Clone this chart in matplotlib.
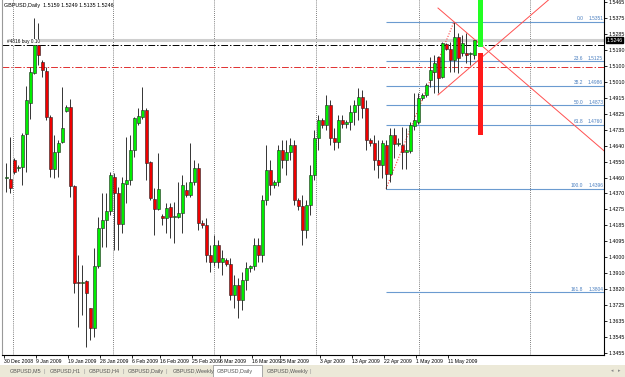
import numpy as np
import matplotlib.pyplot as plt
import matplotlib.transforms as mtransforms
from matplotlib.patches import Rectangle

plt.rcParams["font.family"] = ["Liberation Sans", "DejaVu Sans"]

# GBPUSD daily candles, 30 Dec 2008 .. 18 May 2009
opens = [1.4457, 1.4451, 1.4560, 1.4514, 1.4520, 1.4708, 1.4886, 1.5057, 1.5217, 1.5120,
         1.5069, 1.4806, 1.4508, 1.4605, 1.4663, 1.4840, 1.4863, 1.4411, 1.3862, 1.3856,
         1.3867, 1.3713, 1.3599, 1.3953, 1.4170, 1.4216, 1.4268, 1.4462, 1.4371, 1.4193,
         1.4422, 1.4445, 1.4617, 1.4771, 1.4806, 1.4846, 1.4548, 1.4336, 1.4279, 1.4239,
         1.4228, 1.4291, 1.4234, 1.4234, 1.4257, 1.4388, 1.4360, 1.4434, 1.4514, 1.4199,
         1.4188, 1.4017, 1.3976, 1.4074, 1.3976, 1.3988, 1.3965, 1.3788, 1.3845, 1.3759,
         1.3874, 1.3942, 1.3953, 1.4074, 1.4017, 1.4331, 1.4503, 1.4417, 1.4434, 1.4617,
         1.4560, 1.4605, 1.4646, 1.4331, 1.4297, 1.4160, 1.4303, 1.4474, 1.4685, 1.4789,
         1.4760, 1.4874, 1.4685, 1.4663, 1.4789, 1.4766, 1.4777, 1.4834, 1.4874, 1.4920,
         1.4857, 1.4674, 1.4657, 1.4560, 1.4531, 1.4646, 1.4480, 1.4703, 1.4651, 1.4646,
         1.4605, 1.4611, 1.4754, 1.4777, 1.4914, 1.4932, 1.5017, 1.5063, 1.5149, 1.5034,
         1.5223, 1.5194, 1.5132, 1.5263, 1.5172, 1.5172, 1.5166, 1.5159]
highs = [1.4542, 1.4691, 1.4571, 1.4531, 1.4714, 1.4983, 1.5092, 1.5372, 1.5343, 1.5132,
         1.5092, 1.4817, 1.4703, 1.4674, 1.4977, 1.4874, 1.4908, 1.4417, 1.4016, 1.3959,
         1.3873, 1.3713, 1.4056, 1.4233, 1.4371, 1.4371, 1.4491, 1.4485, 1.4405, 1.4462,
         1.4691, 1.4703, 1.4806, 1.4857, 1.4977, 1.4857, 1.4554, 1.4399, 1.4600, 1.4251,
         1.4314, 1.4314, 1.4319, 1.4434, 1.4474, 1.4434, 1.4657, 1.4560, 1.4542, 1.4217,
         1.4228, 1.4074, 1.4131, 1.4103, 1.4045, 1.3999, 1.3999, 1.3902, 1.3885, 1.3919,
         1.3976, 1.3959, 1.4113, 1.4113, 1.4360, 1.4646, 1.4560, 1.4446, 1.4646, 1.4674,
         1.4674, 1.4686, 1.4674, 1.4342, 1.4360, 1.4331, 1.4531, 1.4731, 1.4817, 1.4800,
         1.4932, 1.4903, 1.4743, 1.4817, 1.4817, 1.4789, 1.4874, 1.4903, 1.4971, 1.4960,
         1.4903, 1.4686, 1.4703, 1.4674, 1.4674, 1.4674, 1.4743, 1.4743, 1.4686, 1.4748,
         1.4743, 1.4777, 1.4943, 1.4943, 1.4943, 1.5000, 1.5149, 1.5160, 1.5155, 1.5234,
         1.5229, 1.5234, 1.5351, 1.5286, 1.5275, 1.5286, 1.5177, 1.5249]
lows = [1.4376, 1.4371, 1.4480, 1.4497, 1.4417, 1.4491, 1.4794, 1.5051, 1.5103, 1.5034,
        1.4788, 1.4462, 1.4457, 1.4462, 1.4657, 1.4834, 1.4348, 1.3799, 1.3604, 1.3673,
        1.3490, 1.3530, 1.3547, 1.3942, 1.4062, 1.4062, 1.4245, 1.4045, 1.4045, 1.4142,
        1.4314, 1.4417, 1.4577, 1.4760, 1.4794, 1.4445, 1.4331, 1.4131, 1.4274, 1.4188,
        1.4142, 1.4113, 1.4085, 1.4228, 1.4142, 1.4348, 1.4348, 1.4417, 1.4160, 1.4171,
        1.3976, 1.3919, 1.3953, 1.3942, 1.3902, 1.3953, 1.3759, 1.3713, 1.3656, 1.3702,
        1.3817, 1.3919, 1.3931, 1.3976, 1.3976, 1.4303, 1.4360, 1.4399, 1.4411, 1.4514,
        1.4474, 1.4560, 1.4303, 1.4274, 1.4074, 1.4113, 1.4245, 1.4446, 1.4617, 1.4743,
        1.4731, 1.4646, 1.4617, 1.4628, 1.4743, 1.4743, 1.4731, 1.4760, 1.4789, 1.4800,
        1.4617, 1.4640, 1.4503, 1.4457, 1.4457, 1.4396, 1.4434, 1.4571, 1.4640, 1.4508,
        1.4508, 1.4600, 1.4731, 1.4766, 1.4903, 1.4920, 1.4977, 1.4943, 1.4943, 1.5029,
        1.5189, 1.5063, 1.5063, 1.5057, 1.5155, 1.5114, 1.5103, 1.5135]
closes = [1.4462, 1.4399, 1.4491, 1.4520, 1.4703, 1.4903, 1.5063, 1.5217, 1.5160, 1.5074,
          1.4806, 1.4508, 1.4605, 1.4657, 1.4743, 1.4863, 1.4411, 1.3856, 1.3856, 1.3862,
          1.3799, 1.3599, 1.3953, 1.4170, 1.4216, 1.4268, 1.4474, 1.4371, 1.4193, 1.4428,
          1.4445, 1.4617, 1.4800, 1.4811, 1.4846, 1.4542, 1.4342, 1.4279, 1.4394, 1.4228,
          1.4285, 1.4234, 1.4239, 1.4257, 1.4417, 1.4360, 1.4434, 1.4514, 1.4199, 1.4188,
          1.4017, 1.3976, 1.4074, 1.3976, 1.3999, 1.3965, 1.3788, 1.3845, 1.3759, 1.3874,
          1.3942, 1.3953, 1.4074, 1.4017, 1.4331, 1.4503, 1.4417, 1.4434, 1.4617, 1.4560,
          1.4605, 1.4646, 1.4331, 1.4297, 1.4160, 1.4303, 1.4474, 1.4685, 1.4789, 1.4760,
          1.4874, 1.4685, 1.4663, 1.4789, 1.4766, 1.4777, 1.4834, 1.4874, 1.4920, 1.4857,
          1.4674, 1.4657, 1.4560, 1.4531, 1.4657, 1.4480, 1.4703, 1.4651, 1.4657, 1.4605,
          1.4617, 1.4760, 1.4789, 1.4914, 1.4932, 1.4989, 1.5074, 1.5115, 1.5029, 1.5229,
          1.5194, 1.5132, 1.5263, 1.5143, 1.5229, 1.5160, 1.5172, 1.5246]

price_labels = ["1.5465", "1.5375", "1.5285", "1.5190", "1.5100", "1.5010", "1.4915", "1.4825",
                "1.4735", "1.4640", "1.4550", "1.4460", "1.4370", "1.4275", "1.4185", "1.4095",
                "1.4000", "1.3910", "1.3820", "1.3725", "1.3635", "1.3545", "1.3455"]
date_labels = ["30 Dec 2008", "9 Jan 2009", "19 Jan 2009", "28 Jan 2009", "6 Feb 2009",
               "16 Feb 2009", "25 Feb 2009", "6 Mar 2009", "16 Mar 2009", "25 Mar 2009",
               "3 Apr 2009", "13 Apr 2009", "22 Apr 2009", "1 May 2009", "11 May 2009"]
date_idx = [0, 8, 16, 24, 32, 39, 47, 54, 62, 69, 79, 87, 95, 103, 111]
grid_idx = [1.75, 26.75, 52, 77.5, 103.25, 131]

fib_levels = ["0.0", "23.6", "38.2", "50.0", "61.8", "100.0", "161.8"]
fib_prices = [1.5351, 1.5125, 1.4986, 1.4873, 1.4760, 1.4396, 1.3804]
fib_from = [95, 112]          # bar index of swing low / swing high

bid = 1.5246
order_line = 1.5217
stop_line = 1.5092
proj_up = [1.5207, 1.5520]
proj_down = [1.4705, 1.5173]
fan_a = ([108, 150], [1.5429, 1.4603])
fan_b = ([108, 141], [1.4932, 1.5581])

tabs = ["GBPUSD,M5", "GBPUSD,H1", "GBPUSD,H4", "GBPUSD,Daily", "GBPUSD,Weekly",
        "GBPUSD,Daily", "GBPUSD,Weekly"]
tab_x = [10, 50, 89, 128, 173, 217, 267]

W, H = 625, 377
fig = plt.figure(figsize=(6.25, 3.77), dpi=100, facecolor="white")
ax = fig.add_axes([2 / W, 22 / H, 602 / W, 355 / H])
ax.set_xlim(-1, 149.5)
ax.set_ylim(1.3445, 1.5475)

# vertical grid
for g in grid_idx:
    ax.axvline(g, color="#555555", lw=0.6, ls=(0, (1, 1.5)), zorder=0)

o, h, l, c = map(np.array, (opens, highs, lows, closes))
x = np.arange(len(o))
up = c >= o
ax.hlines(bid, 8, 149.5, color="#cfcfcf", lw=2.2, zorder=1)
ax.axhline(order_line, color="black", lw=0.7, ls=(0, (7, 2, 1.5, 2)), zorder=1)
ax.axhline(stop_line, color="#e03030", lw=0.7, ls=(0, (7, 2, 1.5, 2)), zorder=1)

# fibonacci
ax.hlines(fib_prices, fib_from[0], 149.5, color="#6b9bd0", lw=0.8, zorder=1)
for lv, p in zip(fib_levels, fib_prices):
    ax.text(144.3, p + 0.0004, lv, ha="right", va="bottom", fontsize=3.5, color="#4a7fc0")
    ax.text(149.3, p + 0.0004, f"{p:.4f}", ha="right", va="bottom", fontsize=3.5, color="#4a7fc0")
ax.plot(fib_from, [fib_prices[5], fib_prices[0]], color="#ff4040", lw=0.8, ls=(0, (1, 1.5)), zorder=1)

# candles
ax.vlines(x, l, h, color="#333333", lw=0.7, zorder=2)
ax.bar(x, np.maximum(np.abs(c - o), 0.0003), bottom=np.minimum(o, c), width=0.75,
       color=np.where(up, "#00ee00", "#ee0000"), edgecolor="#202020", linewidth=0.4, zorder=3)

# projection bars and fan lines
ax.bar(118.6, proj_up[1] - proj_up[0], bottom=proj_up[0], width=1.4, color="#22ff22", zorder=4)
ax.bar(118.6, proj_down[1] - proj_down[0], bottom=proj_down[0], width=1.4, color="#ff1a1a", zorder=4)
ax.plot(*fan_a, color="#ff5050", lw=0.7, zorder=2)
ax.plot(*fan_b, color="#ff5050", lw=0.7, zorder=2)

ax.text(0.3, order_line + 0.0004, "#4816 buy 0.10", fontsize=3.4, va="bottom", color="black",
        bbox=dict(facecolor="white", edgecolor="none", pad=0.2), zorder=5)
ax.text(0.004, 0.992, "GBPUSD,Daily  1.5159 1.5249 1.5135 1.5246", transform=ax.transAxes,
        fontsize=3.9, va="top", ha="left", color="black")

# axes styling
ax.yaxis.tick_right()
ax.set_yticks(np.linspace(1.5465, 1.3455, len(price_labels)), price_labels)
ax.tick_params(axis="y", length=2, width=0.6, labelsize=3.8, pad=1)
ax.set_xticks(np.array(date_idx) - 0.6, date_labels)
for t in ax.get_xticklabels():
    t.set_ha("left")
ax.tick_params(axis="x", length=2, width=0.6, labelsize=3.7, pad=1)
ax.spines["top"].set_visible(False)
ax.spines["left"].set_color("#999999")
for s in ("right", "bottom"):
    ax.spines[s].set_linewidth(0.8)

tr = mtransforms.blended_transform_factory(ax.transAxes, ax.transData)
ax.text(1.004, bid, "1.5246", transform=tr, fontsize=3.8, color="white", va="center", ha="left",
        bbox=dict(facecolor="black", edgecolor="black", pad=0.6), zorder=10, clip_on=False)

# tab bar at the bottom
fig.add_artist(Rectangle((0, 0), 1, 12 / H, transform=fig.transFigure,
                         facecolor="#ece9d8", edgecolor="none"))
fig.add_artist(Rectangle((213 / W, 0), 49 / W, 12 / H, transform=fig.transFigure,
                         facecolor="white", edgecolor="#9a9a9a", lw=0.6))
for name, tx in zip(tabs, tab_x):
    fig.text(tx / W, 6 / H, name, fontsize=3.9, color="#555555", va="center", ha="left")
for sx in [43, 83, 122, 165, 310]:
    fig.text(sx / W, 6 / H, "|", fontsize=4, color="#999999", va="center")
fig.text(611 / W, 6 / H, "\u25c2", fontsize=3.5, color="#888888", va="center")
fig.text(618 / W, 6 / H, "\u25b8", fontsize=3.5, color="#888888", va="center")

fig.savefig("out.png", dpi=100, facecolor="white")
